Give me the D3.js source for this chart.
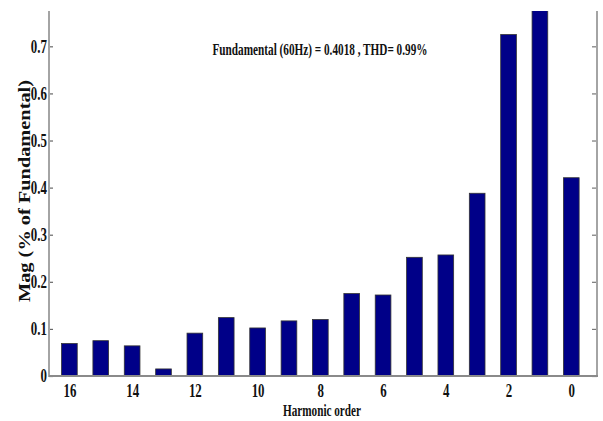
<!DOCTYPE html>
<html>
<head>
<meta charset="utf-8">
<script src="https://cdn.jsdelivr.net/npm/d3@7"></script>
<style>
  html, body { margin: 0; padding: 0; background: #fff; }
  svg { display: block; }
  text { font-family: "Liberation Serif", "Times New Roman", serif; font-weight: bold; fill: #111; }
</style>
</head>
<body>
<svg id="chart" width="603" height="421"></svg>
<script>
// Harmonic spectrum: magnitude of each harmonic order, as % of fundamental
const harmonicOrders = [16, 15, 14, 13, 12, 11, 10, 9, 8, 7, 6, 5, 4, 3, 2, 1, 0];
const magnitudes     = [0.069, 0.075, 0.064, 0.015, 0.091, 0.124, 0.102, 0.117, 0.120,
                        0.175, 0.172, 0.252, 0.257, 0.388, 0.725, 0.80, 0.421];
const xTickValues = [16, 14, 12, 10, 8, 6, 4, 2, 0];
const yTickValues = [0, 0.1, 0.2, 0.3, 0.4, 0.5, 0.6, 0.7];
const titleText = "Fundamental (60Hz) = 0.4018 , THD= 0.99%";
const xLabel = "Harmonic order";
const yLabel = "Mag (% of Fundamental)";

const svg = d3.select("#chart");
const plotLeft = 49, plotRight = 597, plotTop = 11, plotBottom = 376;

// Harmonic order axis runs high-to-low, left to right
const x = d3.scaleLinear().domain([16.65, -0.82]).range([plotLeft, plotRight]);
const y = d3.scaleLinear().domain([0, 0.775]).range([plotBottom, plotTop]);
const barW = x(0) - x(0.5);

svg.append("defs").append("clipPath").attr("id", "plotClip")
  .append("rect").attr("x", plotLeft).attr("y", plotTop)
  .attr("width", plotRight - plotLeft).attr("height", plotBottom - plotTop);

// Bars
svg.append("g").attr("clip-path", "url(#plotClip)")
  .selectAll("rect").data(harmonicOrders.map((h, i) => ({ h, v: magnitudes[i] })))
  .join("rect")
  .attr("x", d => x(d.h) - barW / 2)
  .attr("y", d => y(d.v))
  .attr("width", barW)
  .attr("height", d => y(0) - y(d.v))
  .attr("fill", "#000088")
  .attr("stroke", "#333")
  .attr("stroke-width", 0.8);

const axisColor = "#a4a4a4";

// Left axis with inward ticks
const gy = svg.append("g").attr("transform", `translate(${plotLeft},0)`)
  .call(d3.axisLeft(y).tickValues(yTickValues).tickSize(-4).tickFormat(d3.format("")));
gy.select(".domain").remove();
gy.selectAll(".tick line").attr("stroke", "#666").attr("stroke-width", 1.2);
gy.selectAll(".tick text")
  .attr("x", null).attr("dy", null)
  .attr("text-anchor", "end")
  .attr("dominant-baseline", "central")
  .attr("font-size", 19)
  .attr("transform", "translate(-2,0) scale(0.68,1)");

// Right axis with inward ticks
const gr = svg.append("g").attr("transform", `translate(${plotRight},0)`)
  .call(d3.axisRight(y).tickValues(yTickValues).tickSize(-5).tickFormat(""));
gr.select(".domain").remove();
gr.selectAll(".tick line").attr("stroke", "#777").attr("stroke-width", 1.2);

// Bottom axis labels
const gx = svg.append("g").attr("transform", `translate(0,${plotBottom})`)
  .call(d3.axisBottom(x).tickValues(xTickValues).tickSize(0).tickFormat(d3.format("")));
gx.select(".domain").remove();
gx.selectAll(".tick text")
  .attr("y", null).attr("dy", null)
  .attr("text-anchor", "middle")
  .attr("font-size", 19)
  .attr("transform", "translate(0,20.5) scale(0.68,1)");

// Axis box lines
svg.append("line").attr("x1", plotLeft).attr("x2", plotLeft).attr("y1", plotTop).attr("y2", plotBottom + 1)
  .attr("stroke", axisColor).attr("stroke-width", 2);
svg.append("line").attr("x1", plotRight).attr("x2", plotRight).attr("y1", plotTop).attr("y2", plotBottom + 1)
  .attr("stroke", axisColor).attr("stroke-width", 2);
svg.append("line").attr("x1", plotLeft).attr("x2", plotRight + 1).attr("y1", plotBottom).attr("y2", plotBottom)
  .attr("stroke", "#8a8a8a").attr("stroke-width", 2);

// Title annotation
svg.append("text").attr("x", 212.5).attr("y", 54.5)
  .attr("font-size", 16.5)
  .attr("textLength", 215).attr("lengthAdjust", "spacingAndGlyphs")
  .text(titleText);

// Axis labels
svg.append("text").attr("x", 322).attr("y", 415.5)
  .attr("text-anchor", "middle").attr("font-size", 16)
  .attr("textLength", 78).attr("lengthAdjust", "spacingAndGlyphs")
  .text(xLabel);

svg.append("text")
  .attr("transform", "translate(29.5,191) rotate(-90)")
  .attr("text-anchor", "middle").attr("font-size", 16)
  .attr("textLength", 222).attr("lengthAdjust", "spacingAndGlyphs")
  .text(yLabel);
</script>
</body>
</html>
